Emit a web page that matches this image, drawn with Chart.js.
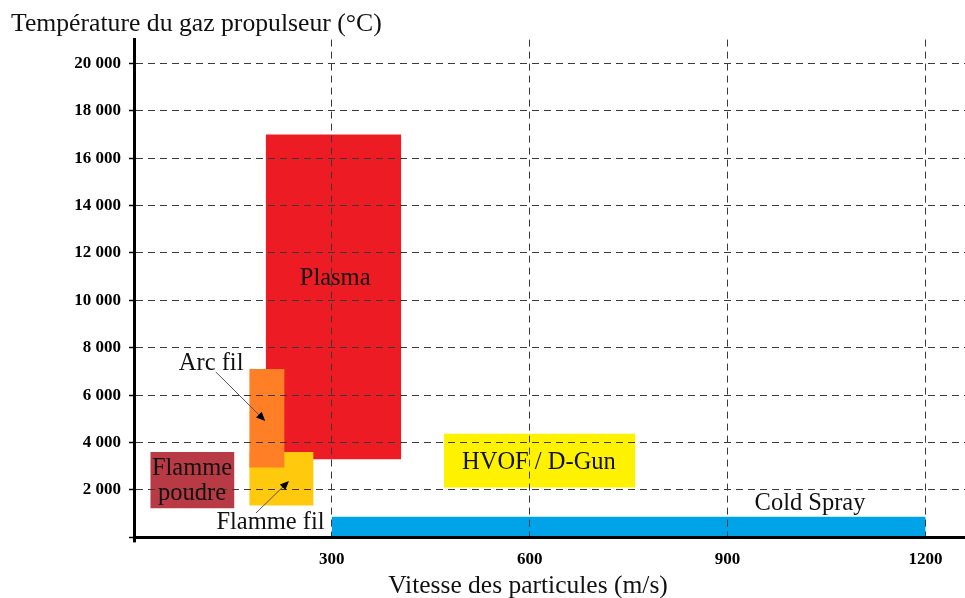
<!DOCTYPE html>
<html><head><meta charset="utf-8">
<script src="https://cdn.jsdelivr.net/npm/chart.js@4/dist/chart.umd.min.js"></script>
<style>html,body{margin:0;padding:0;background:#fff}canvas{display:block}</style>
</head><body>
<canvas id="c" width="965" height="598"></canvas>
<script>
// Process ranges (first listed is drawn on top)
const processes = ['Arc fil', 'Flamme fil', 'Plasma', 'Flamme poudre', 'HVOF / D-Gun', 'Cold Spray'];
const speedMin = [175, 175, 200, 25, 470, 300];     // m/s
const speedMax = [228, 272, 405, 152, 760, 1200];   // m/s
const tempMin  = [2950, 1350, 3300, 1230, 2110, 0];  // °C
const tempMax  = [7100, 3600, 17000, 3600, 4370, 875];
const colors   = ['#FF7F27', '#FFC90E', '#ED1C24', '#B83A44', '#FFF200', '#00A2E8'];

// Tick values
const xTicks = [300, 600, 900, 1200];
const yTicks = [2000, 4000, 6000, 8000, 10000, 12000, 14000, 16000, 18000, 20000];

// Text labels anchored in data coordinates
const labelText  = ['Plasma', 'Arc fil', 'Flamme\npoudre', 'Flamme fil', 'HVOF / D-Gun', 'Cold Spray'];
const labelSpeed = [305, 117, 88, 207, 614, 1025];
const labelTemp  = [10900, 7330, 2360, 620, 3150, 1440];

// Arrows (from label to range)
const arrowFromSpeed = [124, 185];
const arrowFromTemp  = [6980, 1030];
const arrowToSpeed   = [199, 235];
const arrowToTemp    = [4910, 2380];

const SERIF = '"Liberation Serif", "DejaVu Serif", serif';
const fmt = v => String(v).replace(/\B(?=(\d{3})+(?!\d))/g, ' ');

const datasets = processes.map((name, i) => ({
  label: name,
  data: [
    {x: speedMin[i], y: tempMin[i]}, {x: speedMax[i], y: tempMin[i]},
    {x: speedMax[i], y: tempMax[i]}, {x: speedMin[i], y: tempMax[i]},
    {x: speedMin[i], y: tempMin[i]}
  ],
  showLine: true, fill: 'shape', tension: 0,
  backgroundColor: colors[i], borderColor: 'rgba(0,0,0,0)', borderWidth: 0,
  pointRadius: 0, pointHoverRadius: 0
}));

const annotate = {
  id: 'annotate',
  afterDraw(chart) {
    const {ctx, scales: {x, y}} = chart;
    ctx.save();
    // arrows
    for (let i = 0; i < arrowFromSpeed.length; i++) {
      const x1 = x.getPixelForValue(arrowFromSpeed[i]), y1 = y.getPixelForValue(arrowFromTemp[i]);
      const x2 = x.getPixelForValue(arrowToSpeed[i]), y2 = y.getPixelForValue(arrowToTemp[i]);
      const a = Math.atan2(y2 - y1, x2 - x1);
      ctx.strokeStyle = '#555'; ctx.lineWidth = 1;
      ctx.beginPath(); ctx.moveTo(x1, y1);
      ctx.lineTo(x2 - 6 * Math.cos(a), y2 - 6 * Math.sin(a)); ctx.stroke();
      ctx.fillStyle = '#000';
      ctx.beginPath(); ctx.moveTo(x2, y2);
      ctx.lineTo(x2 - 9 * Math.cos(a) + 4 * Math.sin(a), y2 - 9 * Math.sin(a) - 4 * Math.cos(a));
      ctx.lineTo(x2 - 9 * Math.cos(a) - 4 * Math.sin(a), y2 - 9 * Math.sin(a) + 4 * Math.cos(a));
      ctx.closePath(); ctx.fill();
    }
    // labels
    ctx.fillStyle = '#111';
    ctx.font = '24.5px ' + SERIF;
    ctx.textAlign = 'center'; ctx.textBaseline = 'middle';
    labelText.forEach((t, i) => {
      const px = x.getPixelForValue(labelSpeed[i]), py = y.getPixelForValue(labelTemp[i]);
      const lines = t.split('\n');
      lines.forEach((ln, k) => ctx.fillText(ln, px, py + (k - (lines.length - 1) / 2) * 25));
    });
    // axis titles
    ctx.textBaseline = 'alphabetic';
    ctx.font = '25.7px ' + SERIF;
    ctx.textAlign = 'left';
    ctx.fillText('Température du gaz propulseur (°C)', 11, 31);
    ctx.font = '25.5px ' + SERIF;
    ctx.textAlign = 'center';
    ctx.fillText('Vitesse des particules (m/s)', 528, 593);
    ctx.restore();
  }
};

new Chart(document.getElementById('c'), {
  type: 'scatter',
  data: {datasets},
  options: {
    responsive: false, animation: false, events: [],
    layout: {padding: {top: 39.6, left: 0, right: 0, bottom: 0}},
    plugins: {legend: {display: false}, tooltip: {enabled: false}},
    scales: {
      x: {
        type: 'linear', min: 0, max: 1260,
        afterBuildTicks: s => { s.ticks = [0, ...xTicks].map(v => ({value: v})); },
        afterFit: s => { s.height = 60.6; },
        ticks: {
          callback: v => v === 0 ? '' : String(v),
          font: {family: SERIF, size: 17, weight: 'bold'}, color: '#000',
          padding: 7, maxRotation: 0, autoSkip: false
        },
        grid: {
          z: 1, lineWidth: 1,
          color: c => (c.tick && c.tick.value === 0) ? 'rgba(0,0,0,0)' : '#3a3a3a',
          drawTicks: true, tickLength: 5, tickWidth: 3,
          tickColor: c => (c.tick && c.tick.value === 0) ? '#000' : 'rgba(0,0,0,0)'
        },
        border: {display: true, color: '#000', width: 3, dash: [7, 5], z: 1}
      },
      y: {
        type: 'linear', min: 0, max: 21000,
        afterBuildTicks: s => { s.ticks = [0, ...yTicks].map(v => ({value: v})); },
        afterFit: s => { s.width = 134; },
        ticks: {
          callback: v => v === 0 ? '' : fmt(v),
          font: {family: SERIF, size: 17, weight: 'bold'}, color: '#000',
          padding: 8, autoSkip: false
        },
        grid: {
          z: 1, lineWidth: 1,
          color: c => (c.tick && c.tick.value === 0) ? 'rgba(0,0,0,0)' : '#3a3a3a',
          drawTicks: true, tickLength: 5, tickWidth: 1.5, tickColor: '#000'
        },
        border: {display: true, color: '#000', width: 3, dash: [7, 5], z: 1}
      }
    }
  },
  plugins: [annotate]
});
</script>
</body></html>
